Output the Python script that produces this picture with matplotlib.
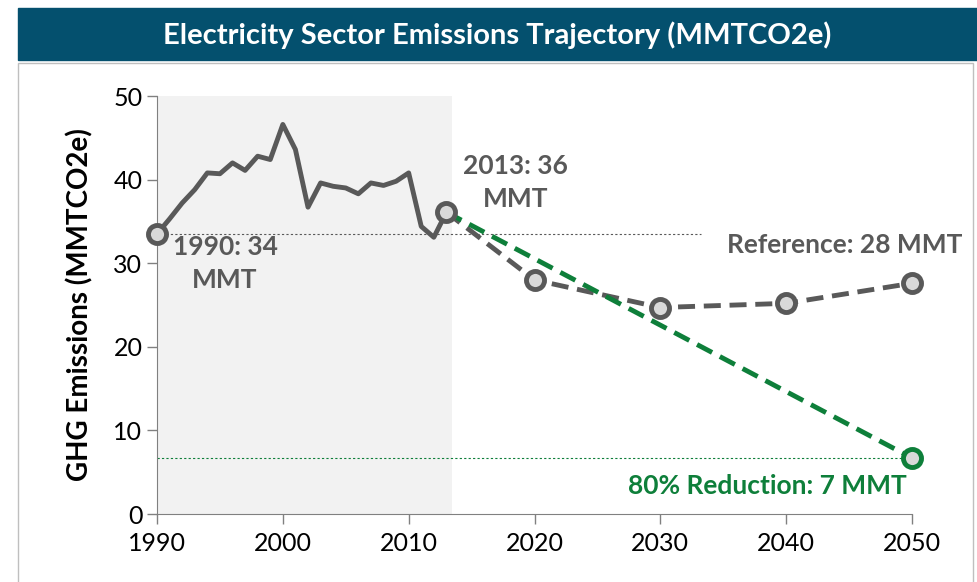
import numpy as np
import matplotlib
matplotlib.use('Agg')
import matplotlib.pyplot as plt
from matplotlib.patches import Rectangle

plt.rcParams['font.family'] = ['Lato', 'DejaVu Sans']

# historical emissions, 1990-2013
hist_years = list(range(1990, 2014))
hist_vals = [33.5, 35.3, 37.2, 38.8, 40.8, 40.7, 42.0, 41.1, 42.8, 42.4,
             46.6, 43.6, 36.7, 39.6, 39.2, 39.0, 38.3, 39.6, 39.3, 39.8,
             40.8, 34.4, 33.1, 36.1]

# reference projection
ref_years = [2013, 2020, 2030, 2040, 2050]
ref_vals = [36.1, 28.0, 24.7, 25.2, 27.6]

# 80% reduction path
goal_years = [2013, 2050]
goal_vals = [36.1, 6.7]

base_1990 = 33.5
shade_end = 2013.45
ref_line_end = 2033.2

x_ticks = [1990, 2000, 2010, 2020, 2030, 2040, 2050]
y_ticks = [0, 10, 20, 30, 40, 50]

GRAY = '#595959'
GREEN = '#0e7f3a'
FILL = '#d9d9d9'
BAR = '#04506e'

fig = plt.figure(figsize=(9.77, 5.82), dpi=100)

# title banner and frame
fig.patches.append(Rectangle((18 / 977, 1 - 60 / 582), 1.0, 52 / 582,
                             transform=fig.transFigure, color=BAR, zorder=0))
fig.patches.append(Rectangle((18 / 977, -0.05), 955 / 977, 1 - 63 / 582 + 0.05,
                             transform=fig.transFigure, fill=False,
                             edgecolor='#bfbfbf', lw=1, zorder=0))
fig.text(497 / 977, 1 - 35 / 582, 'Electricity Sector Emissions Trajectory (MMTCO2e)',
         color='white', fontsize=21, fontweight='bold', ha='center', va='center')

ax = fig.add_axes([157 / 977, 1 - 514 / 582, 755 / 977, 418 / 582])
ax.axvspan(1990, shade_end, color='#f2f2f2', zorder=0, lw=0)

ax.plot([1990, ref_line_end], [base_1990, base_1990], color=GRAY, lw=0.8,
        ls=(0, (2, 2)), zorder=1)
ax.plot([1990, 2050], [goal_vals[-1], goal_vals[-1]], color=GREEN, lw=0.8,
        ls=(0, (2, 2)), zorder=1)

ax.plot(ref_years, ref_vals, color=GRAY, lw=3.5, ls=(0, (3.5, 1.8)), zorder=2)
ax.plot(goal_years, goal_vals, color=GREEN, lw=3.5, ls=(0, (3.5, 1.8)), zorder=3)
ax.plot(hist_years, hist_vals, color=GRAY, lw=3.5, zorder=4, clip_on=False)

mk = dict(ls='none', marker='o', ms=13, mew=3.5, mfc=FILL, clip_on=False)
ax.plot(ref_years[1:], ref_vals[1:], mec=GRAY, zorder=5, **mk)
ax.plot([1990, 2013], [hist_vals[0], hist_vals[-1]], mec=GRAY, zorder=5, **mk)
ax.plot(goal_years[-1:], goal_vals[-1:], mec=GREEN, zorder=6, **mk)

lab = dict(color=GRAY, fontsize=19, fontweight='bold', ha='center', va='center',
           linespacing=1.45)
ax.text(1995.4, 30.0, '1990: 34\nMMT', **lab)
ax.text(2018.5, 39.6, '2013: 36\nMMT', **lab)
ax.text(2054, 32.2, 'Reference: 28 MMT', color=GRAY, fontsize=19, fontweight='bold',
        ha='right', va='center', clip_on=False)
ax.text(2049.6, 3.4, '80% Reduction: 7 MMT', color=GREEN, fontsize=19,
        fontweight='bold', ha='right', va='center')

ax.set_xlim(1990, 2050)
ax.set_ylim(0, 50)
ax.set_xticks(x_ticks)
ax.set_yticks(y_ticks)
ax.tick_params(axis='both', colors='#808080', labelcolor='black', labelsize=18,
               length=7, width=1)
ax.tick_params(axis='x', pad=6)
ax.set_ylabel('GHG Emissions (MMTCO2e)', fontsize=20, fontweight='bold', labelpad=14)
for s in ['top', 'right']:
    ax.spines[s].set_visible(False)
for s in ['left', 'bottom']:
    ax.spines[s].set_color('#808080')

fig.savefig('out.png', dpi=100)
